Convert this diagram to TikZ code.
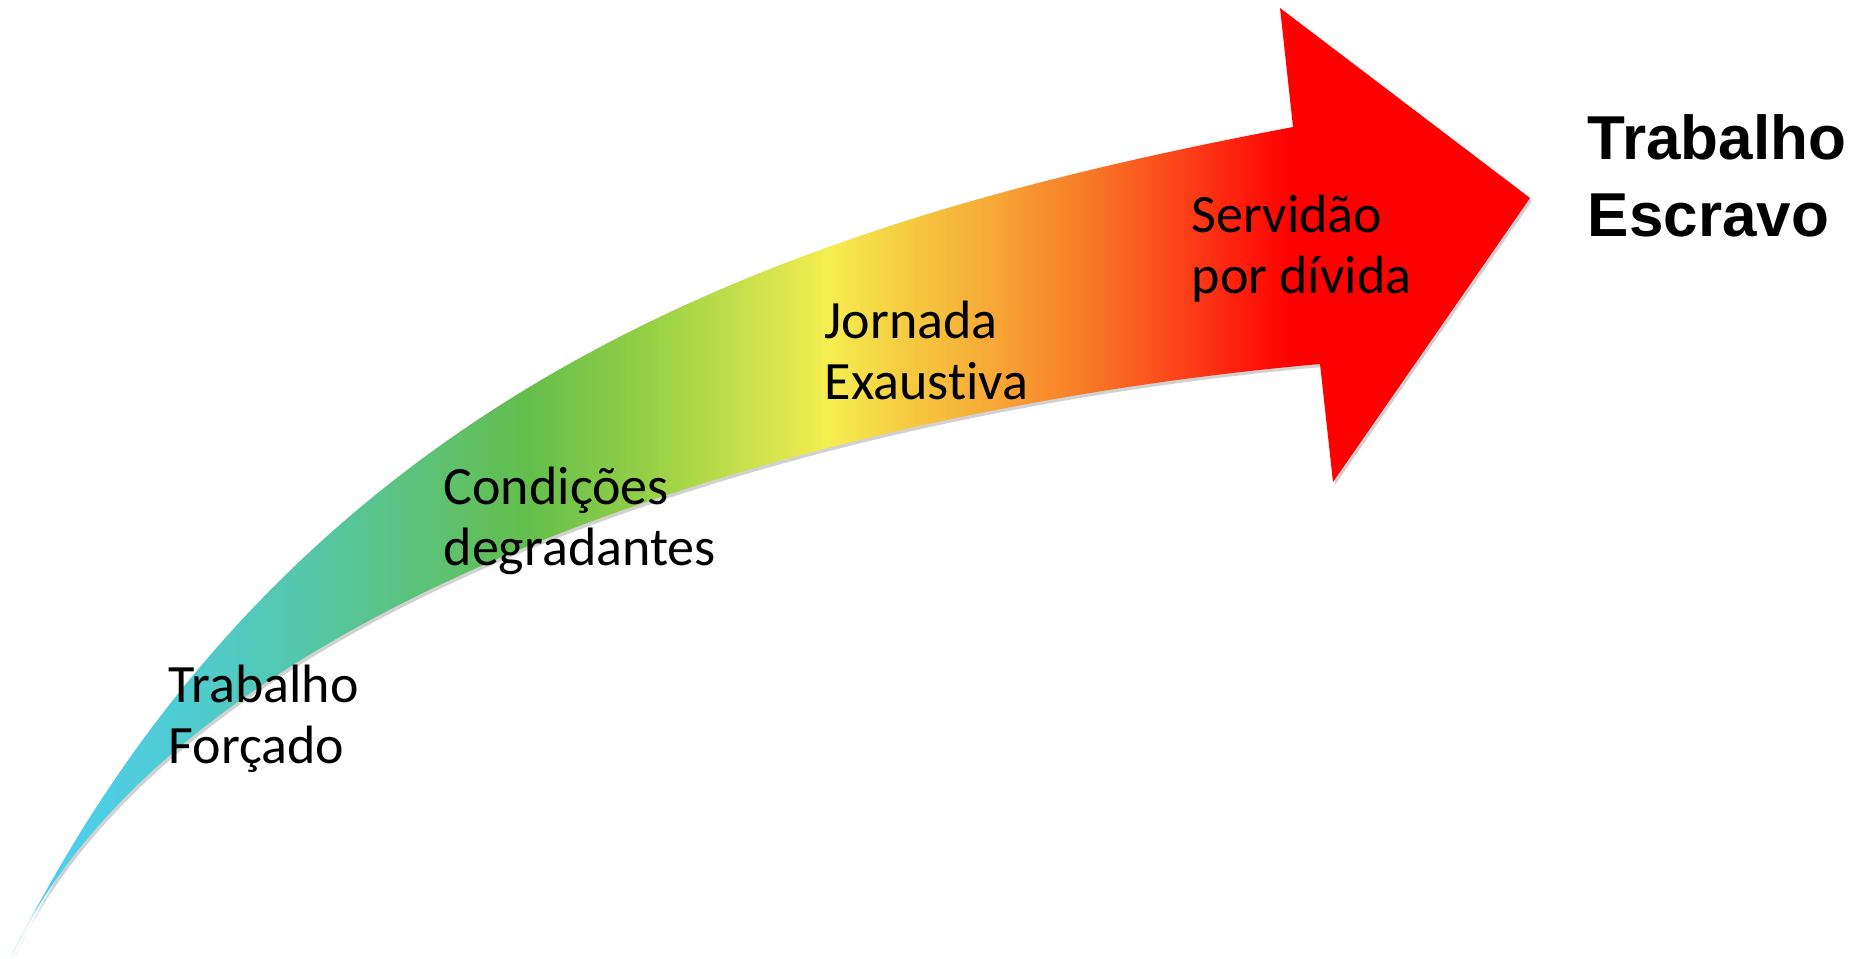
\documentclass[tikz,border=0pt]{standalone}
\usepackage{fontspec}
\setmainfont{Carlito}[Ligatures=NoCommon]
\newfontfamily\headfont{Liberation Sans}
\usetikzlibrary{positioning}

% colour stops of the arrow, left to right
\pgfdeclarehorizontalshading{stages}{100bp}{%
  rgb(0bp)=(0.302,0.816,0.973);
  rgb(25bp)=(0.302,0.816,0.973);
  rgb(31.2bp)=(0.314,0.796,0.804);
  rgb(35.5bp)=(0.337,0.776,0.627);
  rgb(42bp)=(0.392,0.745,0.294);
  rgb(46bp)=(0.588,0.816,0.275);
  rgb(51.9bp)=(0.961,0.933,0.314);
  rgb(54.3bp)=(0.961,0.804,0.255);
  rgb(57.5bp)=(0.969,0.647,0.204);
  rgb(60.8bp)=(0.973,0.451,0.149);
  rgb(64.1bp)=(0.988,0.216,0.086);
  rgb(67.1bp)=(1,0,0);
  rgb(100bp)=(1,0,0)}

\newcommand{\bentarrow}{(12,955) .. controls (300,380) and (800,220) .. (1293,127) -- (1280,8) -- (1530,198) -- (1333,482) -- (1320,364) .. controls (800,410) and (180,600) .. (12,955) -- cycle}

\tikzset{every picture/.style={line width=0.75pt}}
\tikzset{
  stagetext/.style={anchor=base west, inner sep=0pt, align=left, font=\fontsize{27}{30.5}\selectfont},
  goaltext/.style={anchor=base west, inner sep=0pt, align=left, font=\headfont\bfseries\fontsize{31}{38.5}\selectfont},
  shadowfill/.style={fill=black, fill opacity=0.18}
}

\begin{document}
\begin{tikzpicture}[x=0.5pt,y=0.5pt,yscale=-1,xscale=1]
\useasboundingbox (0,0) rectangle (1872,958);

%Shape: Arrow shadow
\fill [shadowfill, shift={(2,3)}] \bentarrow ;
%Shape: Curved Arrow
\shade [shading=stages] \bentarrow ;

% Text Node (base = last line)
\node (forcado) [stagetext] at (168,763) {Trabalho\\Forçado};
% Text Node
\node (degradantes) [stagetext] at (443,565) {Condições\\degradantes};
% Text Node
\node (jornada) [stagetext] at (824,399) {Jornada\\Exaustiva};
% Text Node
\node (servidao) [stagetext] at (1191,293) {Servidão\\por dívida};
% Text Node
\node (escravo) [goaltext] at (1587,236) {Trabalho\\Escravo};

\end{tikzpicture}
\end{document}
